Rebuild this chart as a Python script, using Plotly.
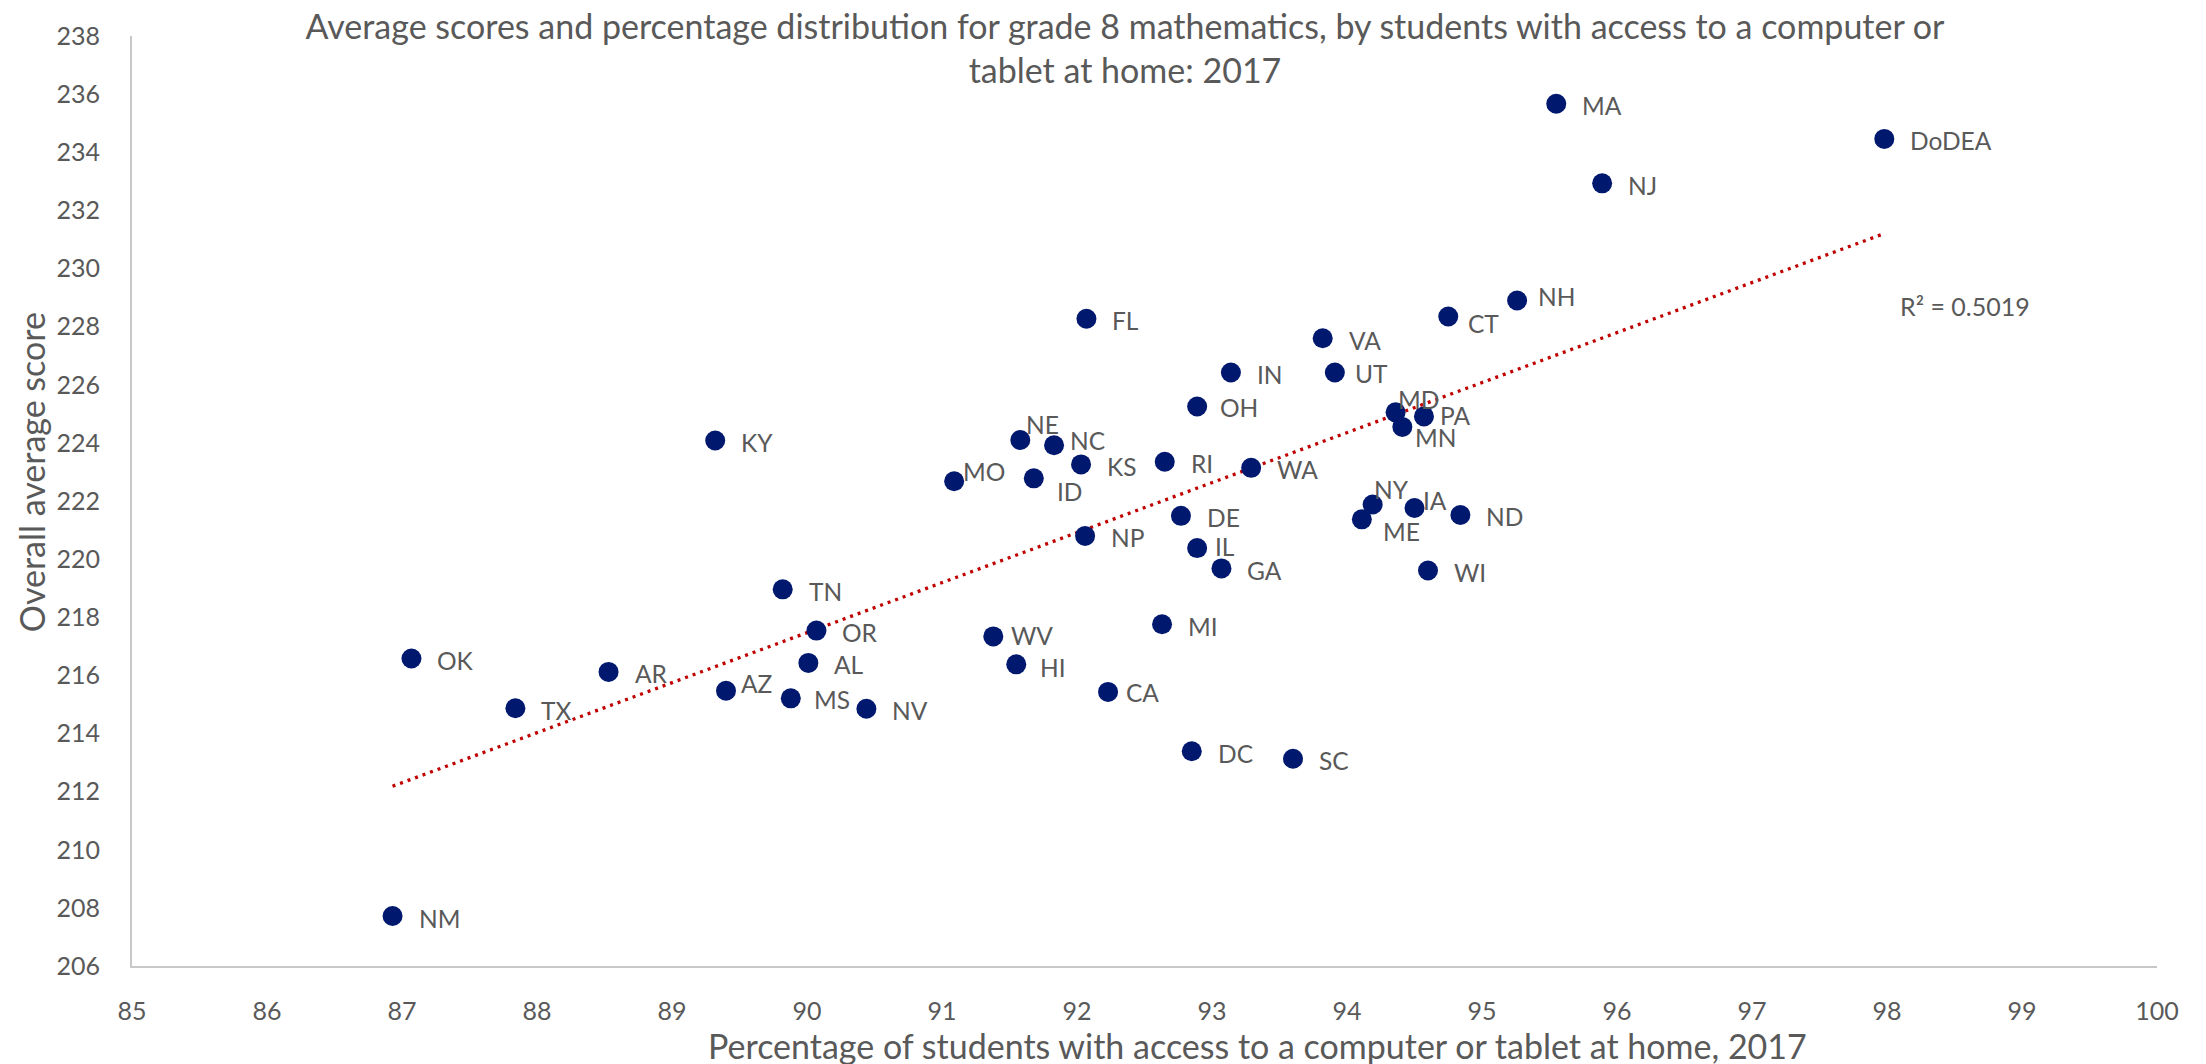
import numpy as np
import plotly.graph_objects as go

# ---- data ----
states = ["NM", "OK", "TX", "AR", "KY", "AZ", "TN", "MS", "AL", "OR", "NV", "MO",
          "WV", "HI", "NE", "ID", "NC", "KS", "NP", "FL", "CA", "MI", "RI", "DE",
          "DC", "OH", "IL", "GA", "IN", "WA", "SC", "VA", "UT", "ME", "NY", "MD",
          "MN", "IA", "PA", "WI", "CT", "ND", "NH", "MA", "NJ", "DoDEA"]
pct_access = [86.93, 87.07, 87.84, 88.53, 89.32, 89.40, 89.82, 89.88, 90.01, 90.07,
              90.44, 91.09, 91.38, 91.55, 91.58, 91.68, 91.83, 92.03, 92.06, 92.07,
              92.23, 92.63, 92.65, 92.77, 92.85, 92.89, 92.89, 93.07, 93.14, 93.29,
              93.60, 93.82, 93.91, 94.11, 94.19, 94.36, 94.41, 94.50, 94.57, 94.60,
              94.75, 94.84, 95.26, 95.55, 95.89, 97.98]
avg_score = [207.72, 216.58, 214.87, 216.12, 224.08, 215.47, 218.96, 215.21, 216.43, 217.54,
             214.85, 222.68, 217.34, 216.38, 224.10, 222.78, 223.92, 223.26, 220.80, 228.27,
             215.43, 217.76, 223.35, 221.49, 213.39, 225.25, 220.38, 219.68, 226.42, 223.14,
             213.13, 227.60, 226.42, 221.37, 221.88, 225.05, 224.55, 221.76, 224.91, 219.61,
             228.35, 221.52, 228.90, 235.67, 232.93, 234.46]
r2_label = "R\u00b2 = 0.5019"
x_ticks = list(range(85, 101, 1))
y_ticks = list(range(206, 239, 2))

# ---- styling ----
FONT = "Lato, 'Open Sans', sans-serif"
TXT = "#595959"
DOT = "#00186E"
AXIS = "#C8C8C8"

# the page body adds an 8px margin; compensate so the chart lands where the reference has it
BODY = 8
W, H = 2206 - BODY, 1064 - BODY

# label placement tweaks: (px from dot centre to text left edge, px below dot centre)
DEFAULT_OFF = (26, 2)
label_off = {
    "AZ": (15, -7), "WV": (18, -1), "CA": (18, 1), "IL": (18, -2), "ME": (21, 12),
    "NY": (1, -14.5), "IA": (8.5, -7.5), "MD": (2.5, -13), "PA": (15.7, -1.4),
    "MN": (12.5, 11), "UT": (20, 1), "CT": (20, 7), "NH": (20.7, -4),
    "NC": (15.7, -4.5), "NE": (6, -15), "MO": (9.3, -10), "ID": (22.8, 13),
    "MS": (23.6, 1), "OH": (23, 1), "HI": (24, 3),
}

x = np.array(pct_access)
y = np.array(avg_score)
slope, intercept = np.polyfit(x, y, 1)
xt = np.array([x.min(), x.max()])
yt = slope * xt + intercept

fig = go.Figure()
fig.add_trace(go.Scatter(
    x=xt, y=yt, mode="lines",
    line=dict(color="#C00000", width=3.3, dash="3px,5px"),
    hoverinfo="skip", showlegend=False))
fig.add_trace(go.Scatter(
    x=pct_access, y=avg_score, mode="markers", text=states,
    marker=dict(size=20, color=DOT, line=dict(width=0)),
    showlegend=False))

annotations = []
for s, px_, py_ in zip(states, pct_access, avg_score):
    dx, dy = label_off.get(s, DEFAULT_OFF)
    annotations.append(dict(
        x=px_, y=py_, xref="x", yref="y", text=s, showarrow=False,
        xanchor="left", yanchor="middle", xshift=dx - 2, yshift=-dy,
        font=dict(family=FONT, size=24.5, color=TXT)))

annotations.append(dict(
    x=xt[-1], y=yt[-1], xref="x", yref="y", text=r2_label, showarrow=False,
    xanchor="left", yanchor="middle", xshift=14, yshift=-72,
    font=dict(family=FONT, size=25, color=TXT)))

# axis titles
annotations.append(dict(
    x=(1257 - 132) / 2025, y=0, xref="paper", yref="paper",
    text="Percentage of students with access to a computer or tablet at home, 2017",
    showarrow=False, xanchor="center", yanchor="middle", yshift=-79,
    font=dict(family=FONT, size=34, color=TXT)))
annotations.append(dict(
    x=0, y=(966 - 469) / 936, xref="paper", yref="paper",
    text="Overall average score", textangle=-90,
    showarrow=False, xanchor="center", yanchor="middle", xshift=-101,
    font=dict(family=FONT, size=34, color=TXT)))

fig.update_layout(
    width=W, height=H,
    margin=dict(l=132 - BODY, r=49, t=30 - BODY, b=98, pad=0),
    paper_bgcolor="white", plot_bgcolor="white",
    font=dict(family=FONT, color=TXT),
    title=dict(
        text="Average scores and percentage distribution for grade 8 mathematics, by students with access to a computer or<br>tablet at home: 2017",
        x=(1125 - BODY) / W, xanchor="center", xref="container",
        y=1 - 31 / H, yanchor="middle", yref="container",
        font=dict(family=FONT, size=34, color=TXT)),
    xaxis=dict(range=[85, 100], tickvals=x_ticks, showgrid=False, zeroline=False,
               showline=True, linecolor=AXIS, linewidth=2, ticks="",
               ticklabelstandoff=22, tickfont=dict(family=FONT, size=25, color=TXT)),
    yaxis=dict(range=[206, 238], tickvals=y_ticks, showgrid=False, zeroline=False,
               showline=True, linecolor=AXIS, linewidth=2, ticks="",
               ticklabelstandoff=25, tickfont=dict(family=FONT, size=25, color=TXT)),
    annotations=annotations,
)

fig.write_html("out.html")
